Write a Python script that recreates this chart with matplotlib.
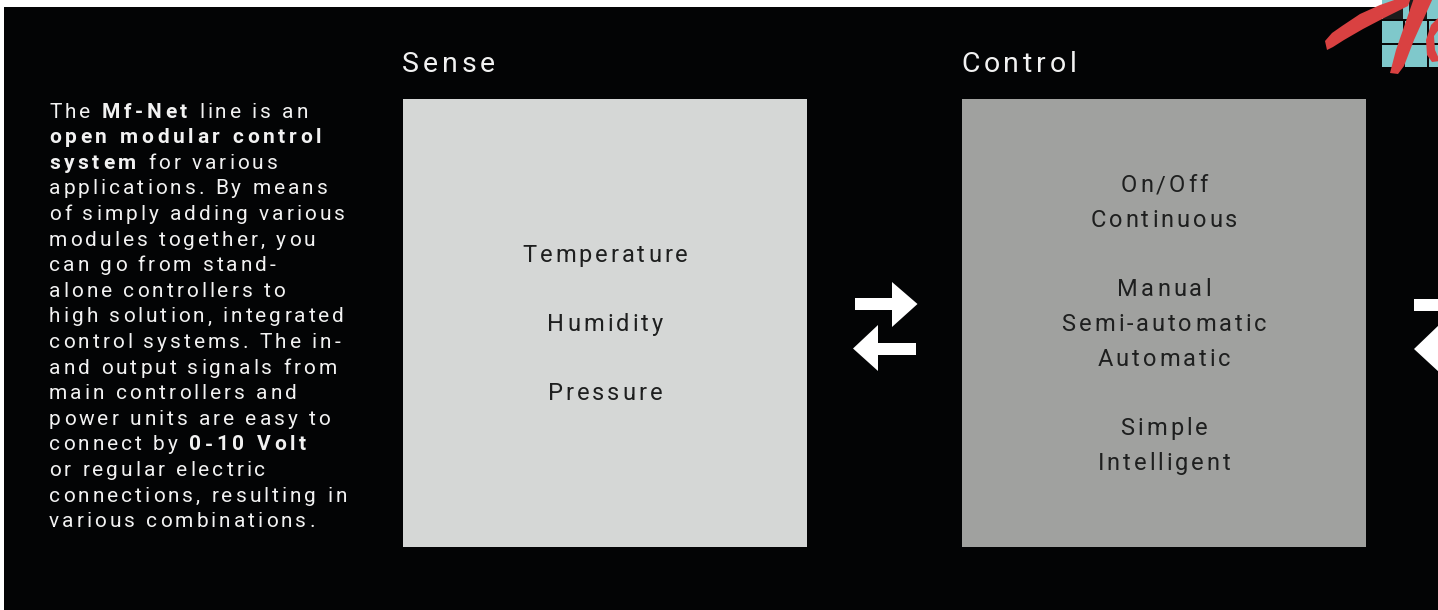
import matplotlib
matplotlib.use("Agg")
import matplotlib.pyplot as plt
from matplotlib.patches import Rectangle, Polygon
from matplotlib.font_manager import findfont, FontProperties
from matplotlib.ft2font import FT2Font

W, H = 1438, 610
DPI = 100
FAMILY = "Roboto"

# ---------------- content ----------------
panel_titles = ["Sense", "Control"]
sense_lines = ["Temperature", "", "Humidity", "", "Pressure"]
control_lines = ["On/Off", "Continuous", "", "Manual", "Semi-automatic",
                 "Automatic", "", "Simple", "Intelligent"]
paragraph = [
    [("The ", False), ("Mf-Net", True), (" line is an", False)],
    [("open modular control", True)],
    [("system", True), (" for various", False)],
    [("applications. By means", False)],
    [("of simply adding various", False)],
    [("modules together, you", False)],
    [("can go from stand-", False)],
    [("alone controllers to", False)],
    [("high solution, integrated", False)],
    [("control systems. The in-", False)],
    [("and output signals from", False)],
    [("main controllers and", False)],
    [("power units are easy to", False)],
    [("connect by ", False), ("0-10 Volt", True)],
    [("or regular electric", False)],
    [("connections, resulting in", False)],
    [("various combinations.", False)],
]

# ---------------- helpers ----------------
_fonts = {}


def advances(s, size, bold):
    if bold not in _fonts:
        fp = FontProperties(family=FAMILY, weight="bold" if bold else "normal")
        _fonts[bold] = FT2Font(findfont(fp), hinting_factor=1)
    f = _fonts[bold]
    f.set_size(size, DPI)
    return [f.load_char(ord(c)).linearHoriAdvance / 65536.0 for c in s]


def line_width(segments, size, tracking, btracking):
    w = 0.0
    for txt, b in segments:
        w += sum(advances(txt, size, b)) + len(txt) * (btracking if b else tracking)
    return w - tracking


def draw_tracked(ax, x, y, segments, size, color, tracking, ha="left",
                 btracking=None):
    if btracking is None:
        btracking = tracking
    if ha == "center":
        x = x - line_width(segments, size, tracking, btracking) / 2.0
    for txt, b in segments:
        adv = advances(txt, size, b)
        tr = btracking if b else tracking
        for ch, a in zip(txt, adv):
            if ch != " ":
                ax.text(x, y, ch, fontsize=size, family=FAMILY,
                        weight="bold" if b else "normal", color=color,
                        ha="left", va="baseline")
            x += a + tr
    return x


# ---------------- figure ----------------
fig = plt.figure(figsize=(W / DPI, H / DPI), dpi=DPI, facecolor="white")
ax = fig.add_axes([0, 0, 1, 1])
ax.set_xlim(0, W)
ax.set_ylim(H, 0)
ax.axis("off")

BG = "#030405"
ax.add_patch(Rectangle((4, 7), W - 4, H - 7, color=BG, lw=0))

# boxes
boxes = [(403, "#d5d7d6"), (962, "#a0a19f")]
BOX_W, BOX_TOP, BOX_BOT = 404, 99, 547
for (x0, c), title in zip(boxes, panel_titles):
    ax.add_patch(Rectangle((x0, BOX_TOP), BOX_W, BOX_BOT - BOX_TOP, color=c, lw=0))
    draw_tracked(ax, x0 - 1, 72, [(title, False)], 20.5, "#f2f2f2", 4.1)

TEXT_DARK = "#1e1f1f"
LS = 34.7
MID_BASE = 331
for (x0, _), lines in zip(boxes, [sense_lines, control_lines]):
    cx = x0 + BOX_W / 2
    n = len(lines)
    for i, t in enumerate(lines):
        if not t:
            continue
        y = MID_BASE + (i - (n - 1) / 2) * LS
        draw_tracked(ax, cx, y, [(t, False)], 17, TEXT_DARK, 2.8, ha="center")

# paragraph
for i, segs in enumerate(paragraph):
    draw_tracked(ax, 49, 117.7 + i * 25.6, segs, 15, "#f2f2f2", 2.95,
                 btracking=3.7)

# arrows
WHITE = "white"
# right-pointing
ax.add_patch(Rectangle((855, 298), 38, 11.5, color=WHITE, lw=0))
ax.add_patch(Polygon([(892, 282), (917.5, 304), (892, 327)], closed=True, color=WHITE, lw=0))
# left-pointing
ax.add_patch(Rectangle((877, 343), 39, 11.5, color=WHITE, lw=0))
ax.add_patch(Polygon([(878, 325), (853, 348.5), (878, 371)], closed=True, color=WHITE, lw=0))
# partial arrows at right edge
ax.add_patch(Rectangle((1414, 299), 30, 11.5, color=WHITE, lw=0))
ax.add_patch(Polygon([(1440, 324), (1414, 349), (1440, 373)], closed=True, color=WHITE, lw=0))

# logo (top-right corner)
TEAL = "#7fc8cb"
ax.add_patch(Rectangle((1382, 0), 60, 67, color=TEAL, lw=0))
ax.add_patch(Rectangle((1383, 4), 20, 16, color="#1b1b1b", lw=0))
ax.add_patch(Rectangle((1409, 0), 18, 20, color="#1b1b1b", lw=0))
for yy in (20, 43.5):
    ax.add_patch(Rectangle((1382, yy - 1), 60, 2, color="#0a0a0a", lw=0))
for xx in (1403.5, 1428):
    ax.add_patch(Rectangle((xx - 1, 20), 2, 47, color="#0a0a0a", lw=0))
RED = "#d94141"
ax.add_patch(Polygon([(1325, 41), (1332, 33), (1342, 26), (1360, 14), (1380, 5),
                      (1400, -2), (1412, -5), (1408, 6), (1384, 18), (1363, 29),
                      (1344, 40), (1333, 47), (1327, 50)], closed=True, color=RED, lw=0))
ax.add_patch(Polygon([(1414, -2), (1433, -2), (1414, 40), (1404, 66), (1398, 74),
                      (1390, 73), (1396, 50)], closed=True, color=RED, lw=0))
ax.add_patch(Polygon([(1440, 16), (1431, 25), (1426, 40), (1427, 55), (1432, 62),
                      (1440, 61), (1435, 50), (1434, 36), (1440, 28)], closed=True,
                     color=RED, lw=0))

fig.savefig("out.png", dpi=DPI, facecolor=fig.get_facecolor())
